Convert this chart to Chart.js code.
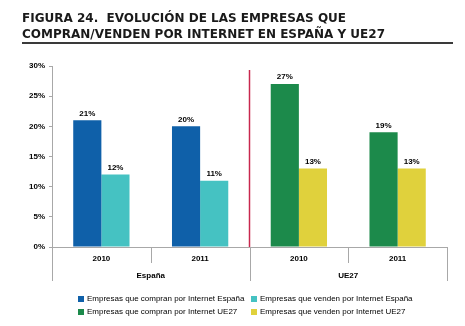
<!DOCTYPE html>
<html>
<head>
<meta charset="utf-8">
<script src="https://cdn.jsdelivr.net/npm/chart.js@4"></script>
<style>
    body { margin: 0; background: #fff; }
    #wrap { position: relative; width: 465px; height: 326px; }
    #chart { position: absolute; left: 0; top: 0; }
    #title {
        position: absolute; left: 22px; top: 10px; width: 431px;
        font: bold 12px "DejaVu Sans", Verdana, sans-serif;
        line-height: 16px; color: #1a1a1a;
        border-bottom: 2px solid #3a3a3a; padding-bottom: 0;
    }
</style>
</head>
<body>
<div id="wrap">
    <canvas id="chart" width="465" height="326"></canvas>
    <div id="title">FIGURA 24.&nbsp; EVOLUCIÓN DE LAS EMPRESAS QUE<br>COMPRAN/VENDEN POR INTERNET EN ESPAÑA Y UE27</div>
</div>
<script>
// data
let years = ["2010", "2011", "2010", "2011"];
let groups = ["España", "UE27"];
let compranEspana = [21, 20, null, null];
let vendenEspana = [12, 11, null, null];
let compranUE = [null, null, 27, 19];
let vendenUE = [null, null, 13, 13];
let seriesNames = [
    "Empresas que compran por Internet España",
    "Empresas que venden por Internet España",
    "Empresas que compran por Internet UE27",
    "Empresas que venden por Internet UE27"
];
let seriesColors = ["#0f60a9", "#45c2c2", "#1c8a4b", "#e0d13c"];

let font = '"Liberation Sans", Arial, sans-serif';
let axisGray = "#a8a8a8";

// draws year/group labels, dividers, value labels and the legend
let extras = {
    id: "extras",
    afterDraw: function (chart) {
        let ctx = chart.ctx;
        let x = chart.scales.x;
        let area = chart.chartArea;
        let step = x.getPixelForValue(1) - x.getPixelForValue(0);
        let edge = i => x.getPixelForValue(0) - step / 2 + i * step;

        ctx.save();

        // separator between España and UE27
        ctx.strokeStyle = "#c8284e";
        ctx.lineWidth = 1.5;
        ctx.beginPath();
        ctx.moveTo(edge(2), area.top + 4);
        ctx.lineTo(edge(2), area.bottom);
        ctx.stroke();

        // category axis
        ctx.strokeStyle = axisGray;
        ctx.lineWidth = 1;
        ctx.beginPath();
        ctx.moveTo(area.left, area.bottom + 0.5);
        ctx.lineTo(area.right, area.bottom + 0.5);
        for (let i = 0; i <= years.length; i++) {
            let px = Math.round(edge(i)) + 0.5;
            ctx.moveTo(px, area.bottom);
            ctx.lineTo(px, area.bottom + (i % 2 === 0 ? 34 : 16));
        }
        ctx.stroke();

        ctx.fillStyle = "#000";
        ctx.textAlign = "center";
        ctx.textBaseline = "middle";
        ctx.font = "bold 8px " + font;
        years.forEach((y, i) => ctx.fillText(y, x.getPixelForValue(i), area.bottom + 12));
        groups.forEach((g, i) => ctx.fillText(g, edge(i * 2 + 1), area.bottom + 29));

        // value labels
        chart.data.datasets.forEach((ds, di) => {
            chart.getDatasetMeta(di).data.forEach((bar, i) => {
                if (ds.data[i] === null) return;
                ctx.fillText(ds.data[i] + "%", bar.x, bar.y - 7);
            });
        });

        // legend
        ctx.font = "8px " + font;
        ctx.textAlign = "left";
        let cols = [78, 251];
        let rows = [299, 312];
        seriesNames.forEach((name, i) => {
            let lx = cols[i % 2];
            let ly = rows[Math.floor(i / 2)];
            ctx.fillStyle = seriesColors[i];
            ctx.fillRect(lx, ly - 3, 6, 6);
            ctx.fillStyle = "#000";
            ctx.fillText(name, lx + 9, ly);
        });

        ctx.restore();
    }
};

let seriesData = [compranEspana, vendenEspana, compranUE, vendenUE];

new Chart(document.getElementById("chart"), {
    type: "bar",
    data: {
        labels: years,
        datasets: seriesData.map((d, i) => ({
            label: seriesNames[i],
            data: d,
            backgroundColor: seriesColors[i],
            borderWidth: 0
        }))
    },
    options: {
        responsive: false,
        animation: false,
        skipNull: true,
        categoryPercentage: 0.57,
        barPercentage: 1,
        layout: { padding: { top: 66, right: 18, bottom: 79, left: 0 } },
        plugins: {
            legend: { display: false },
            tooltip: { enabled: false }
        },
        scales: {
            x: {
                ticks: { display: false },
                grid: { display: false },
                border: { display: false },
                afterFit: s => { s.height = 0; }
            },
            y: {
                min: 0,
                max: 30,
                ticks: {
                    stepSize: 5,
                    padding: 4,
                    color: "#000",
                    font: { family: font, size: 8, weight: "bold" },
                    callback: v => v + "%"
                },
                grid: { drawOnChartArea: false, drawTicks: true, tickLength: 3, color: axisGray },
                border: { display: true, color: axisGray, width: 1 },
                afterFit: s => { s.width = 52; }
            }
        }
    },
    plugins: [extras]
});
</script>
</body>
</html>
